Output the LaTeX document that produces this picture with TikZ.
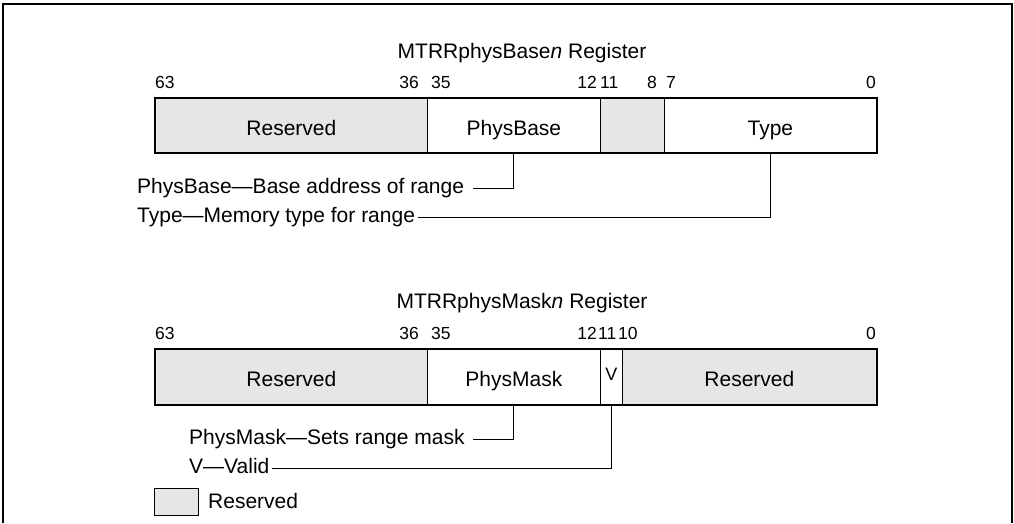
\documentclass[tikz,border=0pt]{standalone}
\usepackage{fontspec}
\setmainfont{Liberation Sans}
\definecolor{rgray}{RGB}{230,230,230}
\begin{document}
\begin{tikzpicture}[x=1pt,y=-1pt,
  field/.style={draw, line width=0.8pt, minimum height=54pt, inner sep=0pt,
    text height=20pt, text depth=0pt, font=\fontsize{21}{25}\selectfont, anchor=north west},
  regborder/.style={draw, line width=2pt},
  bit/.style={font=\fontsize{17.5}{20}\selectfont, inner sep=0pt},
  txt/.style={font=\fontsize{21}{25}\selectfont, inner sep=0pt},
  leader/.style={draw, line width=1pt}]
\useasboundingbox (0,0) rectangle (1014,523);
% outer frame
\draw[line width=2.2pt] (3,523) -- (3,4) -- (1012,4) -- (1012,523);

% ---- top register
\node[txt, anchor=base] (ttitle) at (522,58) {MTRRphysBase\textit{n} Register};
\node[bit, anchor=base west] (t63) at (155,88) {63};
\node[bit, anchor=base east] (t36) at (419,88) {36};
\node[bit, anchor=base west] (t35) at (431,88) {35};
\node[bit, anchor=base east] (t12) at (597,88) {12};
\node[bit, anchor=base west] (t11) at (600,88) {11};
\node[bit, anchor=base east] (t8) at (657,88) {8};
\node[bit, anchor=base west] (t7) at (666,88) {7};
\node[bit, anchor=base east] (t0) at (876,88) {0};

\node[field, fill=rgray, minimum width=272pt] (tres) at (155,98) {Reserved};
\node[field, minimum width=173pt] (tpb) at (427,98) {PhysBase};
\node[field, fill=rgray, minimum width=64pt] (tgap) at (600,98) {};
\node[field, minimum width=212pt] (ttype) at (664,98) {Type};
\draw[regborder] (tres.north west) rectangle (ttype.south east);

\node[txt, anchor=base west] (pbt) at (137,193) {PhysBase—Base address of range};
\coordinate (pbs) at (473,188);
\draw[leader] (pbs) -| (tpb.south);
\node[txt, anchor=base west] (tyt) at (137,222) {Type—Memory type for range};
\coordinate (tys) at (418,217);
\draw[leader] (tys) -| (ttype.south);

% ---- bottom register
\node[txt, anchor=base] (btitle) at (522,308) {MTRRphysMask\textit{n} Register};
\node[bit, anchor=base west] (b63) at (155,339) {63};
\node[bit, anchor=base east] (b36) at (419,339) {36};
\node[bit, anchor=base west] (b35) at (431,339) {35};
\node[bit, anchor=base east] (b12) at (597,339) {12};
\node[bit, anchor=base west] (b11) at (598,339) {11};
\node[bit, anchor=base west] (b10) at (618,339) {10};
\node[bit, anchor=base east] (b0) at (876,339) {0};

\node[field, fill=rgray, minimum width=272pt, minimum height=55pt] (bres) at (155,349) {Reserved};
\node[field, minimum width=173pt, minimum height=55pt] (bpm) at (427,349) {PhysMask};
\node[field, minimum width=22pt, minimum height=55pt, font=\fontsize{18}{20}\selectfont, text height=8pt] (bv) at (600,349) {V};
\node[field, fill=rgray, minimum width=254pt, minimum height=55pt] (bres2) at (622,349) {Reserved};
\draw[regborder] (bres.north west) rectangle (bres2.south east);

\node[txt, anchor=base west] (pmt) at (189,444) {PhysMask—Sets range mask};
\coordinate (pms) at (473,439);
\draw[leader] (pms) -| (bpm.south);
\node[txt, anchor=base west] (vt) at (189,473) {V—Valid};
\coordinate (vs) at (272,468);
\draw[leader] (vs) -| (bv.south);

% ---- legend
\node[draw, line width=0.7pt, fill=rgray, minimum width=44pt, minimum height=27pt,
  inner sep=0pt, anchor=north west] (leg) at (154,488) {};
\node[txt, anchor=base west] (legt) at (208,508) {Reserved};
\end{tikzpicture}
\end{document}
